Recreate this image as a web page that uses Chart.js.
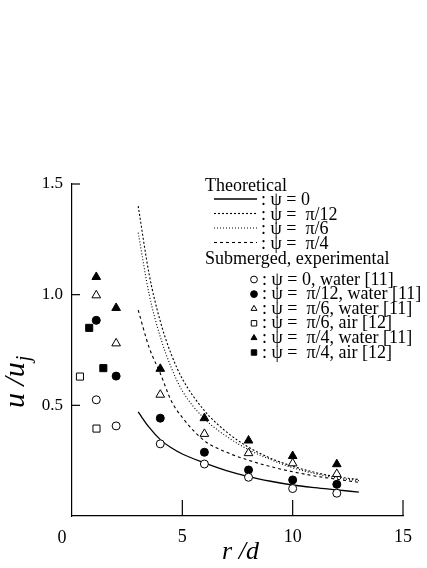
<!DOCTYPE html>
<html>
<head>
<meta charset="utf-8">
<script src="https://cdn.jsdelivr.net/npm/chart.js@4/dist/chart.umd.min.js"></script>
<style>
  html, body { margin: 0; padding: 0; background: #fff; }
  #wrap { width: 427px; height: 568px; position: relative; }
</style>
</head>
<body>
<div id="wrap"><canvas id="jet-chart"></canvas></div>
<script>
;(function () {
  // tick labels
  const xTicks = [0, 5, 10, 15]
  const yTicks = [0, 0.5, 1.0, 1.5]

  // theoretical curves, r/d and u/uj
  const curveR = [3, 3.5, 4, 4.5, 5, 6, 7, 8, 9, 10, 11, 12, 13]
  const theoryPsi0 = [0.47, 0.40, 0.345, 0.308, 0.28, 0.24, 0.205, 0.178, 0.157, 0.14, 0.128, 0.118, 0.108]
  const theoryPi12 = [1.40, 1.09, 0.88, 0.73, 0.62, 0.476, 0.38, 0.311, 0.261, 0.225, 0.197, 0.177, 0.165]
  const theoryPi6 = [1.28, 1.0, 0.81, 0.67, 0.565, 0.44, 0.36, 0.30, 0.255, 0.218, 0.192, 0.172, 0.16]
  const theoryPi4 = [0.93, 0.76, 0.645, 0.52, 0.445, 0.34, 0.288, 0.252, 0.223, 0.2, 0.181, 0.166, 0.152]

  // submerged experiments
  const waterR = [1.1, 2, 4, 6, 8, 10, 12]
  const waterPsi0 = [0.525, 0.407, 0.326, 0.235, 0.175, 0.124, 0.103]
  const waterPi12 = [0.884, 0.632, 0.442, 0.288, 0.208, 0.163, 0.143]
  const waterPi6 = [0.997, 0.78, 0.548, 0.371, 0.284, 0.238, 0.19]
  const waterPi4 = [1.08, 0.94, 0.665, 0.442, 0.341, 0.271, 0.234]
  const airPi6R = [0.36, 1.11]
  const airPi6 = [0.63, 0.395]
  const airPi4R = [0.78, 1.42]
  const airPi4 = [0.85, 0.668]

  const SERIF = '"Liberation Serif", "Times New Roman", serif'

  function pts(xs, ys) {
    return xs.map((x, i) => ({ x, y: ys[i] }))
  }

  function curve(label, ys, dash, width) {
    return {
      group: 'theory',
      label,
      data: pts(curveR, ys),
      showLine: true,
      borderColor: '#000',
      borderWidth: width,
      borderDash: dash,
      pointRadius: 0,
      cubicInterpolationMode: 'monotone',
      order: 2
    }
  }

  function marks(label, xs, ys, style, filled, radius) {
    return {
      group: 'exp',
      label,
      data: pts(xs, ys),
      pointStyle: style,
      pointRadius: radius,
      backgroundColor: filled ? '#000' : '#fff',
      borderColor: '#000',
      borderWidth: 1,
      order: 1
    }
  }

  const datasets = [
    curve('ψ = 0', theoryPsi0, [], 1.3),
    curve('ψ =  π/12', theoryPi12, [2, 2], 1.1),
    curve('ψ =  π/6', theoryPi6, [1, 2], 1.1),
    curve('ψ =  π/4', theoryPi4, [3, 3], 1.1),
    marks('ψ = 0, water [11]', waterR, waterPsi0, 'circle', false, 4),
    marks('ψ =  π/12, water [11]', waterR, waterPi12, 'circle', true, 4),
    marks('ψ =  π/6, water [11]', waterR, waterPi6, 'triangle', false, 5),
    marks('ψ =  π/6, air [12]', airPi6R, airPi6, 'rect', false, 5),
    marks('ψ =  π/4, water [11]', waterR, waterPi4, 'triangle', true, 5),
    marks('ψ =  π/4, air [12]', airPi4R, airPi4, 'rect', true, 5)
  ]

  function line(ctx, x1, y1, x2, y2) {
    ctx.beginPath()
    ctx.moveTo(x1, y1)
    ctx.lineTo(x2, y2)
    ctx.stroke()
  }

  function marker(ctx, style, filled, x, y, r) {
    ctx.beginPath()
    if (style === 'circle') {
      ctx.arc(x, y, r, 0, Math.PI * 2)
    } else if (style === 'triangle') {
      ctx.moveTo(x, y - r)
      ctx.lineTo(x + r * 0.866, y + r * 0.5)
      ctx.lineTo(x - r * 0.866, y + r * 0.5)
      ctx.closePath()
    } else {
      ctx.rect(x - r * 0.8, y - r * 0.8, r * 1.6, r * 1.6)
    }
    ctx.fillStyle = filled ? '#000' : '#fff'
    ctx.fill()
    ctx.stroke()
  }

  const decorations = {
    id: 'decorations',
    afterDraw(chart) {
      const { ctx, chartArea: a, scales: { x, y } } = chart
      ctx.save()
      ctx.strokeStyle = '#000'
      ctx.fillStyle = '#000'
      ctx.lineWidth = 1.2

      // inward tick marks
      xTicks.forEach((v) => {
        if (!v) return
        const px = x.getPixelForValue(v)
        line(ctx, px, a.bottom, px, a.bottom - 16)
      })
      yTicks.forEach((v) => {
        if (!v) return
        const py = y.getPixelForValue(v)
        line(ctx, a.left, py, a.left + 8, py)
      })

      // shared origin label
      ctx.font = '18px ' + SERIF
      ctx.textAlign = 'center'
      ctx.textBaseline = 'alphabetic'
      ctx.fillText('0', x.getPixelForValue(0) - 10, a.bottom + 27)

      // axis titles
      ctx.font = 'italic 26px ' + SERIF
      ctx.fillText('r /d', (a.left + a.right) / 2 + 3, 559)

      ctx.save()
      ctx.translate(24, 408)
      ctx.rotate(-Math.PI / 2)
      ctx.textAlign = 'left'
      ctx.font = 'italic 30px ' + SERIF
      ctx.fillText('u /u', 0, 0)
      const w = ctx.measureText('u /u').width
      ctx.font = 'italic 20px ' + SERIF
      ctx.fillText('j', w + 1, 6)
      ctx.restore()

      // legend
      ctx.font = '18px ' + SERIF
      ctx.textAlign = 'left'
      ctx.fillText('Theoretical', 205, 191)
      ctx.fillText('Submerged, experimental', 205, 263.5)
      let ti = 0
      let ei = 0
      chart.data.datasets.forEach((ds) => {
        if (ds.group === 'theory') {
          const base = 205 + ti * 14.5
          ti++
          ctx.save()
          ctx.lineWidth = ds.borderWidth
          ctx.setLineDash(ds.borderDash)
          line(ctx, 214, base - 6, 257, base - 6)
          ctx.restore()
          ctx.fillText(': ' + ds.label, 261, base)
        } else {
          const base = 284.5 + ei * 14.6
          ei++
          ctx.save()
          ctx.lineWidth = 1
          marker(ctx, ds.pointStyle, ds.backgroundColor === '#000', 254, base - 5, 3.4)
          ctx.restore()
          ctx.fillText(': ' + ds.label, 262, base)
        }
      })
      ctx.restore()
    }
  }

  new Chart(document.getElementById('jet-chart'), {
    type: 'scatter',
    data: { datasets },
    options: {
      responsive: true,
      maintainAspectRatio: false,
      animation: false,
      devicePixelRatio: 1,
      layout: { padding: { top: 184, right: 24, left: 0, bottom: 0 } },
      plugins: { legend: { display: false }, tooltip: { enabled: false } },
      scales: {
        x: {
          type: 'linear',
          min: 0,
          max: 15,
          afterBuildTicks: (s) => { s.ticks = xTicks.map((v) => ({ value: v })) },
          afterFit: (s) => { s.height = 52 },
          grid: { drawOnChartArea: false, drawTicks: false },
          border: { display: true, color: '#000', width: 1.2 },
          ticks: {
            padding: 10,
            color: '#000',
            font: { family: SERIF, size: 18 },
            callback: (v) => (v === 0 ? '' : String(v))
          }
        },
        y: {
          type: 'linear',
          min: 0,
          max: 1.5,
          afterBuildTicks: (s) => { s.ticks = yTicks.map((v) => ({ value: v })) },
          afterFit: (s) => { s.width = 72 },
          grid: { drawOnChartArea: false, drawTicks: false },
          border: { display: true, color: '#000', width: 1.2 },
          ticks: {
            padding: 9,
            color: '#000',
            font: { family: SERIF, size: 17 },
            callback: (v) => (v === 0 ? '' : v.toFixed(1))
          }
        }
      }
    },
    plugins: [decorations]
  })
})()
</script>
</body>
</html>
